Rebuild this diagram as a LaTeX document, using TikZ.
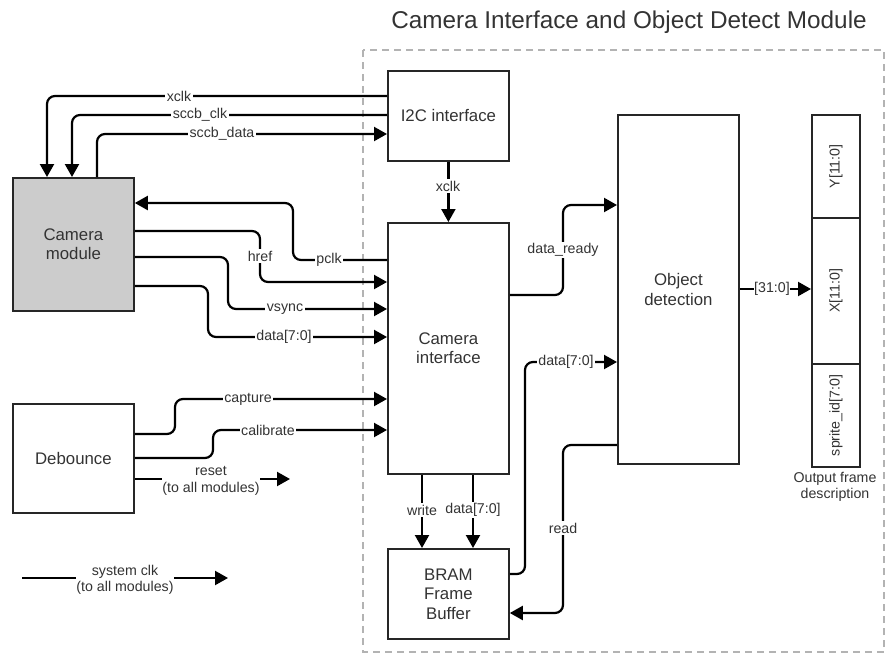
\documentclass[tikz,border=0pt]{standalone}
\usepackage{fontspec}
\setmainfont{Liberation Sans}
\usetikzlibrary{arrows.meta}
\definecolor{txt}{HTML}{333333}
\definecolor{camgray}{HTML}{CCCCCC}
\definecolor{dashgray}{HTML}{B3B3B3}
\tikzset{
  box/.style={draw=black!85, line width=1.8pt, anchor=north west, align=center, inner sep=0pt, text=txt, font=\fontsize{16.8}{19.5}\selectfont},
  wire/.style={line width=2.2pt, rounded corners=8pt},
  arr/.style={wire, -{Triangle[length=13pt,width=14pt]}},
  lbl/.style={fill=white, inner sep=1.5pt, text=txt, font=\fontsize{14.2}{16.5}\selectfont, align=center},
}
\begin{document}
\begin{tikzpicture}[x=1pt,y=-1pt]
\useasboundingbox (0,0) rectangle (886,656);
% dashed module frame
\draw[dashgray, line width=1.5pt, dash pattern=on 7pt off 5pt] (363,50) rectangle (884,652);
\node[text=txt, font=\fontsize{24.3}{28}\selectfont] (title) at (629,22) {Camera Interface and Object Detect Module};

% blocks
\node[box, fill=camgray, minimum width=121pt, minimum height=133pt] (camm) at (12,177) {Camera\\module};
\node[box, minimum width=121pt, minimum height=109pt] (deb) at (12,403) {Debounce};
\node[box, minimum width=121pt, minimum height=90pt] (i2c) at (387,70) {I2C interface};
\node[box, minimum width=121pt, minimum height=251pt] (ci) at (387,222) {Camera\\interface};
\node[box, minimum width=121pt, minimum height=90pt] (bram) at (387,548) {BRAM\\Frame\\Buffer};
\node[box, minimum width=121pt, minimum height=349pt] (od) at (617,114) {Object\\detection};
\node[box, minimum width=48pt, minimum height=103pt] (oy) at (811,114) {};
\node[box, minimum width=48pt, minimum height=146pt] (ox) at (811,217) {};
\node[box, minimum width=48pt, minimum height=103pt] (os) at (811,363) {};
\node[rotate=90, text=txt, font=\fontsize{14.2}{16.5}\selectfont] (oyt) at (oy.center) {Y[11:0]};
\node[rotate=90, text=txt, font=\fontsize{14.2}{16.5}\selectfont] (oxt) at (ox.center) {X[11:0]};
\node[rotate=90, text=txt, font=\fontsize{14.2}{16.5}\selectfont] (ost) at (os.center) {sprite\_id[7:0]};
\node[text=txt, font=\fontsize{14.2}{16.5}\selectfont, align=center] (ofd) at (835,487) {Output frame\\description};

% I2C <-> camera module
\draw[arr] (i2c.west |- 0,96) -- (47,96) -- (camm.north -| 47,0);
\node[lbl] (lxclk) at (179,96) {xclk};
\draw[arr] (i2c.west |- 0,115) -- (72,115) -- (camm.north -| 72,0);
\node[lbl] (lsclk) at (200,115) {sccb\_clk};
\draw[arr] (camm.north -| 97,0) -- (97,134) -- (i2c.west |- 0,134);
\node[lbl] (lsdata) at (222,134) {sccb\_data};

% camera module <-> camera interface
\draw[arr] (ci.west |- 0,260) -- (293,260) -- (293,203) -- (camm.east |- 0,203);
\node[lbl] (lpclk) at (329,260) {pclk};
\draw[arr] (camm.east |- 0,231) -- (260,231) -- (260,282) -- (ci.west |- 0,282);
\node[lbl] (lhref) at (260,256) {href};
\draw[arr] (camm.east |- 0,257) -- (228,257) -- (228,309) -- (ci.west |- 0,309);
\node[lbl] (lvsync) at (285,309) {vsync};
\draw[arr] (camm.east |- 0,286) -- (208,286) -- (208,337) -- (ci.west |- 0,337);
\node[lbl] (ldata) at (284,337) {data[7:0]};

% debounce
\draw[arr] (deb.east |- 0,434) -- (175,434) -- (175,399) -- (ci.west |- 0,399);
\node[lbl] (lcap) at (248,399) {capture};
\draw[arr] (deb.east |- 0,458) -- (213,458) -- (213,430) -- (ci.west |- 0,430);
\node[lbl] (lcal) at (268,430) {calibrate};
\coordinate (rstend) at (290,479);
\draw[arr] (deb.east |- 0,479) -- (rstend);
\node[lbl, inner sep=0.5pt] (lrst) at (211,481) {reset\\(to all modules)};

% system clock
\coordinate (sclka) at (22,578);
\coordinate (sclkb) at (228,578);
\draw[arr] (sclka) -- (sclkb);
\node[lbl, inner sep=0.5pt] (lsclk2) at (125,580) {system clk\\(to all modules)};

% I2C -> camera interface
\draw[arr] (i2c.south) -- (ci.north);
\node[lbl] (lxclk2) at (448,186) {xclk};

% camera interface -> object detection
\draw[arr] (ci.east |- 0,295) -- (563,295) -- (563,205) -- (od.west |- 0,205);
\node[lbl] (ldr) at (563,250) {data\_ready};

% BRAM -> object detection
\draw[arr] (bram.east |- 0,574) -- (525,574) -- (525,362) -- (od.west |- 0,362);
\node[lbl] (ldata2) at (566,362) {data[7:0]};

% object detection -> BRAM (read)
\draw[arr] (od.west |- 0,445) -- (563,445) -- (563,613) -- (bram.east |- 0,613);
\node[lbl] (lread) at (563,528) {read};

% camera interface -> BRAM
\draw[arr] (ci.south -| 422,0) -- (bram.north -| 422,0);
\node[lbl] (lwrite) at (422,510) {write};
\draw[arr] (ci.south -| 473,0) -- (bram.north -| 473,0);
\node[lbl] (ldata3) at (473,510) {data[7:0]};

% object detection -> output frame
\draw[arr] (od.east |- 0,289) -- (ox.west |- 0,289);
\node[lbl, inner sep=0.5pt] (lout) at (772,289) {[31:0]};
\end{tikzpicture}
\end{document}
